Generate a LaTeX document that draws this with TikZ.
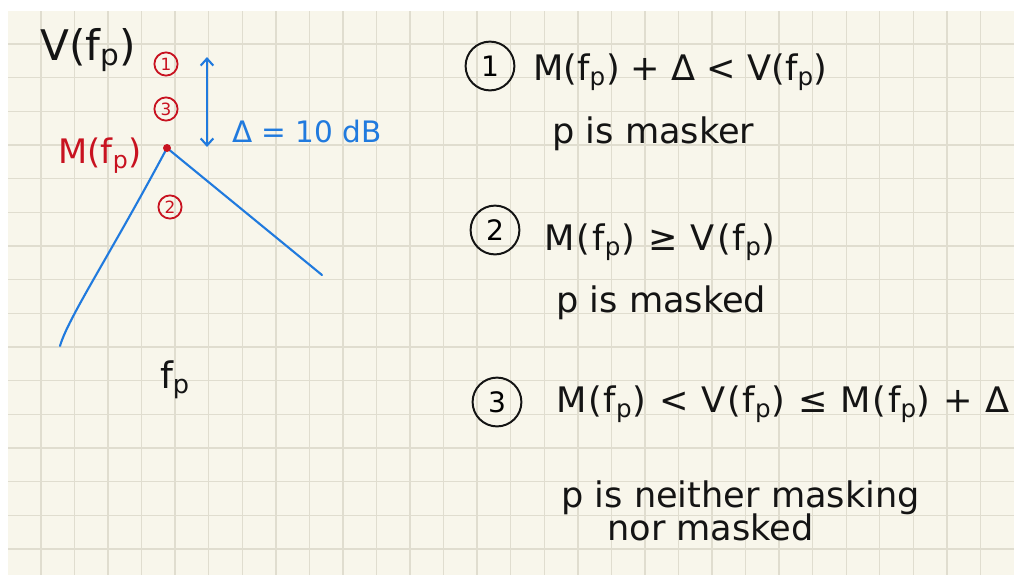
\documentclass[tikz,border=0pt]{standalone}
\usepackage{fontspec}
\setmainfont{DejaVu Sans}
\usetikzlibrary{positioning, arrows.meta}
\definecolor{paper}{RGB}{248, 246, 235}
\definecolor{gridline}{RGB}{224, 221, 207}
\definecolor{ink}{RGB}{20, 20, 20}
\definecolor{penred}{RGB}{200, 18, 32}
\definecolor{penblue}{RGB}{32, 122, 222}
\newcommand{\fpsub}{f\textsubscript{p}}

\begin{document}
\begin{tikzpicture}[
      x=0.025cm, y=-0.025cm,
      hand/.style={inner sep=0pt, text=ink, font=\fontsize{25}{30}\selectfont},
      widehand/.style={hand, font=\fontsize{25}{30}\selectfont\addfontfeature{LetterSpace=#1}},
      redhand/.style={hand, text=penred},
      bluehand/.style={hand, text=penblue},
      casenum/.style={circle, draw=ink, line width=1.4pt, minimum size=1.22cm, inner sep=0pt, font=\fontsize{20}{24}\selectfont},
      regionnum/.style={circle, draw=penred, text=penred, line width=1.3pt, minimum size=0.58cm, inner sep=0pt, font=\fontsize{12}{13}\selectfont},
      dot/.style={circle, fill=penred, minimum size=0.2cm, inner sep=0pt},
      curve/.style={draw=penblue, line width=1.5pt, line cap=round},
      levelgap/.style={{Straight Barb[length=5pt, width=9pt]}-{Straight Barb[length=5pt, width=9pt]}, draw=penblue, line width=1.5pt}
    ]
      % Paper
      \useasboundingbox (0,0) rectangle (1014,575);
      \fill[white] (0,0) rectangle (1014,575);
      \fill[paper] (8,11) rectangle (1014,575);
      \foreach \i in {0,...,28}
        \draw[gridline, line width=1pt] ({41+33.55*\i},11) -- ({41+33.55*\i},575);
      \foreach \j in {0,...,15}
        \draw[gridline, line width=1pt] (8,{44+33.67*\j}) -- (1014,{44+33.67*\j});

      % Sketch
      \coordinate (peak) at (167,148);
      \coordinate (lowL) at (60,346);
      \coordinate (lowR) at (322,275);
      \coordinate (dtop) at (207,57);
      \coordinate (dbot) at (207,147);
      \node[hand, font=\fontsize{30}{34}\selectfont, anchor=base west] (vlab) at (40,60) {V(\fpsub)};
      \node[redhand, font=\fontsize{24}{28}\selectfont, anchor=base east] (mlab) at (142,163) {M(\fpsub)};
      \node[regionnum] (r1) at (166,64) {1};
      \node[regionnum] (r3) at (166,109) {3};
      \node[regionnum] (r2) at (170,207) {2};
      \node[bluehand, font=\fontsize{21}{25}\selectfont, anchor=base west] (dlab) at (232,142) {Δ = 10 dB};
      \node[hand, font=\fontsize{26}{30}\selectfont] (fplab) at (175,380) {\fpsub};

      \draw[curve] (peak) .. controls (110,255) and (68,318) .. (lowL);
      \draw[curve] (peak) -- (lowR);
      \draw[levelgap] (dtop) -- (dbot);
      \node[dot] (peakdot) at (peak) {};

      % Cases
      \node[casenum] (c1) at (490,66) {1};
      \node[hand, anchor=base west] (cond1) at (533,80) {M(\fpsub) + Δ < V(\fpsub)};
      \node[hand, anchor=base west] (res1) at (552,143) {p is masker};

      \node[casenum] (c2) at (495,230) {2};
      \node[widehand=6, anchor=base west] (cond2) at (544,250) {M(\fpsub) ≥ V(\fpsub)};
      \node[hand, anchor=base west] (res2) at (556,312) {p is masked};

      \node[casenum] (c3) at (497,402) {3};
      \node[widehand=5, anchor=base west] (cond3) at (556,412) {M(\fpsub) < V(\fpsub) ≤ M(\fpsub) + Δ};
      \node[hand, anchor=base west] (res3) at (561,507) {p is neither masking};
      \node[hand, anchor=base west] (res3b) at (607,540) {nor masked};
    \end{tikzpicture}
\end{document}
